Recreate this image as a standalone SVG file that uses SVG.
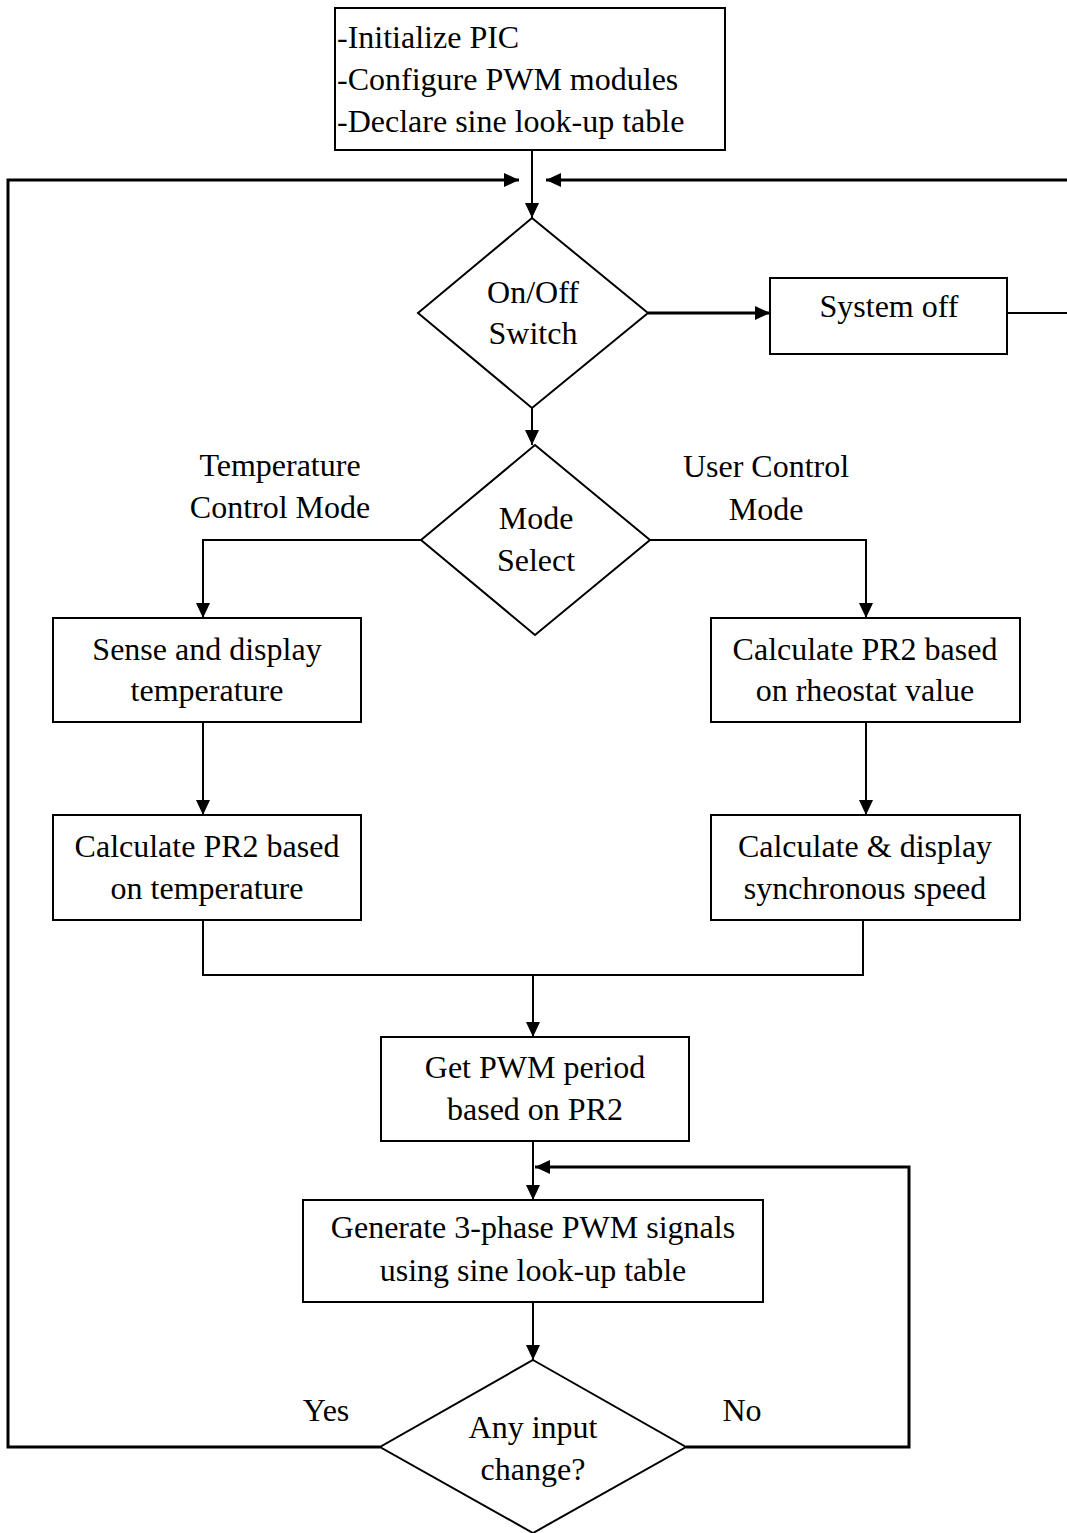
<svg xmlns="http://www.w3.org/2000/svg" width="1067" height="1533" viewBox="0 0 1067 1533">
<defs>
<marker id="ah" markerWidth="15" markerHeight="14" refX="15" refY="7" orient="auto" markerUnits="userSpaceOnUse">
<path d="M0,0 L15,7 L0,14 Z" fill="#000"/>
</marker>
<style>
.n{fill:#fff;stroke:#000;stroke-width:2}
.t{font-family:"Liberation Serif","Times New Roman",serif;font-size:32px;fill:#000;text-anchor:middle}
.l{text-anchor:start}
.c{fill:none;stroke:#000;stroke-width:2}
.a{fill:none;stroke:#000;stroke-width:2;marker-end:url(#ah)}
.w{stroke-width:3}
</style>
</defs>
<rect width="1067" height="1533" fill="#fff"/>
<g id="connectors">
<path class="a" d="M532,150 V218"/>
<path class="a w" d="M380,1447 H8 V180 H519"/>
<path class="a w" d="M1067,180 H546"/>
<path class="a w" d="M648,313 H770"/>
<path class="c" d="M1007,313 H1067"/>
<path class="a" d="M532,408 V445"/>
<path class="a" d="M421,540 H203 V618"/>
<path class="a" d="M650,540 H866 V618"/>
<path class="a" d="M203,722 V815"/>
<path class="a" d="M866,722 V815"/>
<path class="c" d="M203,920 V975 H863 V920"/>
<path class="a" d="M533,975 V1037"/>
<path class="a" d="M533,1141 V1200"/>
<path class="a" d="M533,1302 V1360"/>
<path class="a w" d="M686,1447 H909 V1167 H535"/>
</g>
<g id="init"><rect class="n" x="335" y="8" width="390" height="142"/>
<text class="t l" x="337" y="48">-Initialize PIC</text>
<text class="t l" x="337" y="90">-Configure PWM modules</text>
<text class="t l" x="337" y="132">-Declare sine look-up table</text></g>
<g id="onoff"><path class="n" d="M532,218 L648,313 L532,408 L418,313 Z"/>
<text class="t" x="533" y="303">On/Off</text><text class="t" x="533" y="344">Switch</text></g>
<g id="sysoff"><rect class="n" x="770" y="278" width="237" height="76"/>
<text class="t" x="889" y="317">System off</text></g>
<g id="mode"><path class="n" d="M535,445 L650,540 L535,635 L421,540 Z"/>
<text class="t" x="536" y="529">Mode</text><text class="t" x="536" y="571">Select</text></g>
<g id="lbl-temp"><text class="t" x="280" y="476">Temperature</text><text class="t" x="280" y="518">Control Mode</text></g>
<g id="lbl-user"><text class="t" x="766" y="477">User Control</text><text class="t" x="766" y="520">Mode</text></g>
<g id="sense"><rect class="n" x="53" y="618" width="308" height="104"/>
<text class="t" x="207" y="660">Sense and display</text><text class="t" x="207" y="701">temperature</text></g>
<g id="calc-rheo"><rect class="n" x="711" y="618" width="309" height="104"/>
<text class="t" x="865" y="660">Calculate PR2 based</text><text class="t" x="865" y="701">on rheostat value</text></g>
<g id="calc-temp"><rect class="n" x="53" y="815" width="308" height="105"/>
<text class="t" x="207" y="857">Calculate PR2 based</text><text class="t" x="207" y="899">on temperature</text></g>
<g id="calc-sync"><rect class="n" x="711" y="815" width="309" height="105"/>
<text class="t" x="865" y="857">Calculate &amp; display</text><text class="t" x="865" y="899">synchronous speed</text></g>
<g id="getpwm"><rect class="n" x="381" y="1037" width="308" height="104"/>
<text class="t" x="535" y="1078">Get PWM period</text><text class="t" x="535" y="1120">based on PR2</text></g>
<g id="gen"><rect class="n" x="303" y="1200" width="460" height="102"/>
<text class="t" x="533" y="1238">Generate 3-phase PWM signals</text><text class="t" x="533" y="1281">using sine look-up table</text></g>
<g id="change"><path class="n" d="M533,1360 L686,1447 L533,1533 L380,1447 Z"/>
<text class="t" x="533" y="1438">Any input</text><text class="t" x="533" y="1480">change?</text></g>
<g id="lbl-yes"><text class="t" x="326" y="1421">Yes</text></g>
<g id="lbl-no"><text class="t" x="742" y="1421">No</text></g>
</svg>
